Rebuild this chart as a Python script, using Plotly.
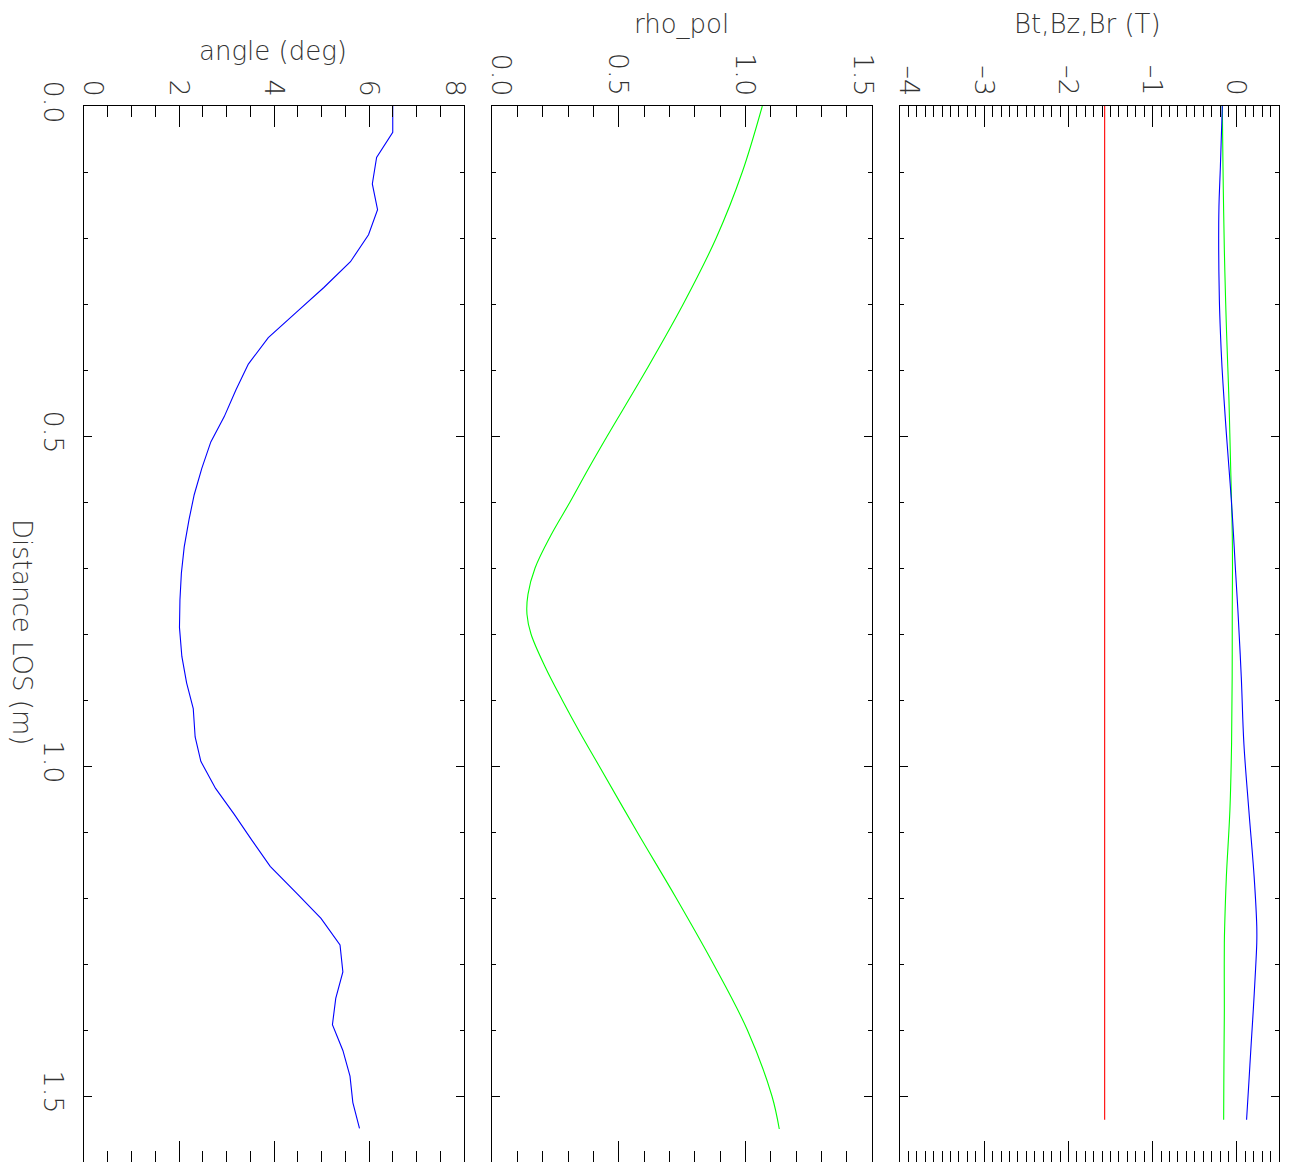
import plotly.graph_objects as go

# ---- data -------------------------------------------------------------
# Magnetic field components along the line of sight
b_dist = [0.000, 0.092, 0.153, 0.218, 0.294, 0.345, 0.395, 0.446, 0.496, 0.547,
          0.597, 0.648, 0.698, 0.764, 0.865, 0.966, 1.067, 1.168, 1.243, 1.268,
          1.319, 1.369, 1.420, 1.480, 1.536]
bt = [-1.57, -1.57, -1.57, -1.57, -1.57, -1.57, -1.57, -1.57, -1.57, -1.57,
      -1.57, -1.57, -1.57, -1.57, -1.57, -1.57, -1.57, -1.57, -1.57, -1.57,
      -1.57, -1.57, -1.57, -1.57, -1.57]
bz = [-0.173, -0.165, -0.158, -0.149, -0.134, -0.122, -0.108, -0.094, -0.084, -0.074,
      -0.064, -0.055, -0.052, -0.055, -0.056, -0.063, -0.083, -0.125, -0.145, -0.149,
      -0.150, -0.149, -0.152, -0.155, -0.157]
br = [-0.173, -0.196, -0.213, -0.216, -0.208, -0.195, -0.177, -0.152, -0.125, -0.095,
      -0.066, -0.041, -0.019, 0.012, 0.052, 0.083, 0.142, 0.205, 0.236, 0.236,
      0.217, 0.195, 0.170, 0.142, 0.115]

# Normalised poloidal flux radius
rho_dist = [0.00, 0.10, 0.20, 0.30, 0.40, 0.50, 0.55, 0.60, 0.65, 0.70, 0.74, 0.77,
            0.80, 0.85, 0.90, 0.95, 1.00, 1.10, 1.20, 1.30, 1.40, 1.50, 1.55]
rho_pol = [1.067, 0.988, 0.885, 0.755, 0.609, 0.455, 0.380, 0.308, 0.233, 0.170,
           0.142, 0.138, 0.154, 0.210, 0.277, 0.348, 0.423, 0.573, 0.727, 0.874,
           1.008, 1.105, 1.134]

# Field-line pitch angle
ang_dist = [0.000, 0.040, 0.078, 0.118, 0.157, 0.195, 0.236, 0.275, 0.312, 0.351,
            0.391, 0.430, 0.471, 0.509, 0.549, 0.589, 0.627, 0.668, 0.708, 0.748,
            0.790, 0.834, 0.874, 0.913, 0.956, 0.993, 1.034, 1.073, 1.113, 1.152,
            1.193, 1.231, 1.271, 1.312, 1.352, 1.392, 1.431, 1.470, 1.510, 1.549]
angle = [6.50, 6.50, 6.16, 6.07, 6.18, 5.99, 5.61, 5.05, 4.48, 3.88,
         3.46, 3.20, 2.95, 2.67, 2.48, 2.32, 2.21, 2.11, 2.05, 2.02,
         2.01, 2.06, 2.16, 2.30, 2.34, 2.46, 2.77, 3.16, 3.54, 3.92,
         4.48, 4.99, 5.39, 5.45, 5.30, 5.23, 5.45, 5.60, 5.66, 5.80]

# Value-axis tick labels of each panel
angle_ticks = [0, 2, 4, 6, 8]
angle_labels = ["0", "2", "4", "6", "8"]
rho_ticks = [0.0, 0.5, 1.0, 1.5]
rho_labels = ["0.0", "0.5", "1.0", "1.5"]
b_ticks = [-4, -3, -2, -1, 0]
b_labels = ["\u20134", "\u20133", "\u20132", "\u20131", "0"]

# ---- figure -----------------------------------------------------------
W, H = 1291, 1162
FAMILY = "DejaVu Sans, Open Sans, sans-serif"
TICKFONT = dict(family=FAMILY, size=27, weight=200, color="#333333")
TITLEFONT = dict(family=FAMILY, size=26, weight=200, color="#333333")

fig = go.Figure()

fig.add_trace(go.Scatter(x=angle, y=ang_dist, mode="lines",
                         line=dict(color="#0000ff", width=1.1),
                         xaxis="x", yaxis="y"))
fig.add_trace(go.Scatter(x=rho_pol, y=rho_dist, mode="lines",
                         line=dict(color="#00ff00", width=1.1, shape="spline"),
                         xaxis="x2", yaxis="y2"))
fig.add_trace(go.Scatter(x=bt, y=b_dist, mode="lines",
                         line=dict(color="#ff0000", width=1.1),
                         xaxis="x3", yaxis="y3"))
fig.add_trace(go.Scatter(x=bz, y=b_dist, mode="lines",
                         line=dict(color="#00ff00", width=1.1, shape="spline"),
                         xaxis="x3", yaxis="y3"))
fig.add_trace(go.Scatter(x=br, y=b_dist, mode="lines",
                         line=dict(color="#0000ff", width=1.1, shape="spline"),
                         xaxis="x3", yaxis="y3"))


def px(x0, x1):
    return [x0 / W, x1 / W]


y_dom = [0.0, 1.0 - 106 / H]


def value_axis(domain, rng, dtick, minor, anchor):
    return dict(domain=domain, range=rng, anchor=anchor, side="top",
                dtick=dtick, tick0=0, showticklabels=False,
                ticks="inside", ticklen=21, tickwidth=1, tickcolor="black",
                minor=dict(dtick=minor, tick0=0, ticks="inside", ticklen=11,
                           tickwidth=1, tickcolor="black", showgrid=False),
                showline=True, linecolor="black", linewidth=1, mirror="allticks",
                showgrid=False, zeroline=False, automargin=False)


def dist_axis(anchor, labels):
    return dict(domain=y_dom, range=[1.6, 0.0], anchor=anchor,
                dtick=0.5, tick0=0, tickformat=".1f", tickangle=90,
                ticks="inside", ticklen=8, tickwidth=1, tickcolor="black",
                minor=dict(dtick=0.1, tick0=0, ticks="inside", ticklen=4,
                           tickwidth=1, tickcolor="black", showgrid=False),
                showline=True, linecolor="black", linewidth=1, mirror="allticks",
                showgrid=False, zeroline=False, showticklabels=labels,
                tickfont=TICKFONT, ticklabelstandoff=7, automargin=False)


fig.update_layout(
    width=W, height=H, autosize=False,
    margin=dict(l=0, r=0, t=0, b=0, pad=0),
    paper_bgcolor="white", plot_bgcolor="white",
    showlegend=False, template="none",
    xaxis=value_axis(px(84, 464), [0, 8], 2, 0.5, "y"),
    xaxis2=value_axis(px(492, 872), [0, 1.5], 0.5, 0.1, "y2"),
    xaxis3=value_axis(px(900, 1279), [-4, 0.5], 1, 0.1, "y3"),
    yaxis=dist_axis("x", True),
    yaxis2=dist_axis("x2", False),
    yaxis3=dist_axis("x3", False),
)

# Rotated value-axis labels above each panel; labels sitting on a panel
# edge are nudged inwards so they stay over their own frame.
label_sets = [
    ("x", angle_ticks, angle_labels, [0, 8]),
    ("x2", rho_ticks, rho_labels, [0.0, 1.5]),
    ("x3", b_ticks, b_labels, [-4, 0.5]),
]
for xref, vals, texts, (lo, hi) in label_sets:
    for v, t in zip(vals, texts):
        shift = 9 if v == lo else (-9 if v == hi else 0)
        fig.add_annotation(text=t, x=v, xref=xref, y=1 - 97 / H, yref="paper",
                           xanchor="center", yanchor="bottom", xshift=shift,
                           showarrow=False, textangle=90, font=TICKFONT,
                           borderpad=0)

titles = [
    ("angle (deg)", 273, 51, 0),
    ("rho_pol", 681, 25, 0),
    ("Bt,Bz,Br (T)", 1087, 24, 0),
    ("Distance LOS (m)", 22, 632, 90),
]
for text, cx, cy, rot in titles:
    fig.add_annotation(text=text, x=cx / W, y=1 - cy / H, xref="paper", yref="paper",
                       xanchor="center", yanchor="middle", showarrow=False,
                       textangle=rot, font=TITLEFONT)

fig.write_html("out.html")
